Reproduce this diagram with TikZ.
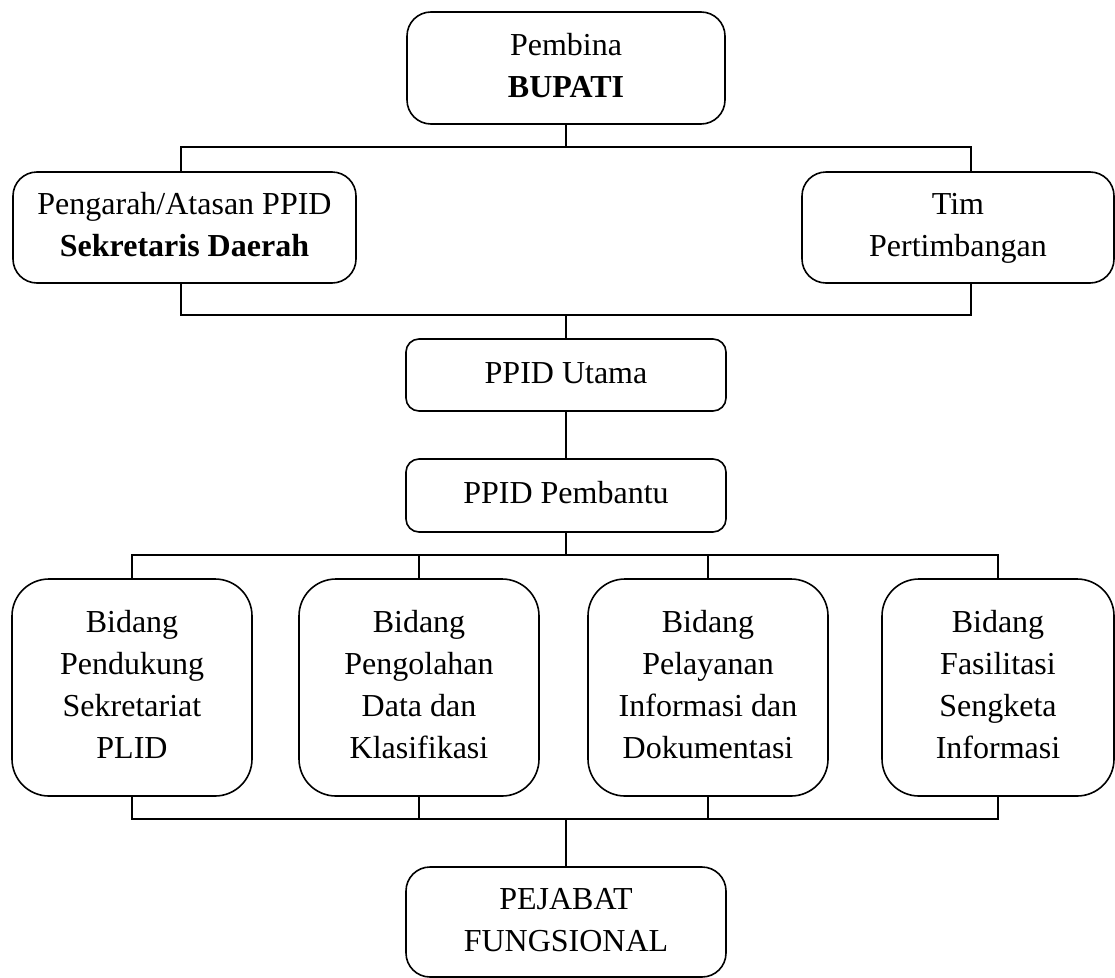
\documentclass[tikz,border=0pt]{standalone}
\usepackage{fontspec}
\setmainfont{Liberation Serif}
\begin{document}
\begin{tikzpicture}[x=1pt,y=-1pt,
  box/.style={draw, line width=1.6pt, align=center, inner sep=0pt,
    font=\fontsize{32}{42}\selectfont},
  conn/.style={line width=1.6pt}]
\useasboundingbox (0,0) rectangle (1115,977);
% top level
\node[box, minimum width=318pt, minimum height=112pt, rounded corners=24pt] (bupati) at (566,68) {\strut Pembina\\\textbf{BUPATI}\strut};
\node[box, minimum width=343pt, minimum height=111pt, rounded corners=24pt] (pengarah) at (184.5,227.5) {\strut Pengarah/Atasan PPID\\\textbf{Sekretaris Daerah}\strut};
\node[box, minimum width=312pt, minimum height=111pt, rounded corners=24pt] (tim) at (958,227.5) {\strut Tim\\Pertimbangan\strut};
\node[box, minimum width=320pt, minimum height=72pt, rounded corners=13pt] (utama) at (566,375) {\strut PPID Utama};
\node[box, minimum width=320pt, minimum height=73pt, rounded corners=13pt] (pembantu) at (566,495.5) {\strut PPID Pembantu};
% bidang
\node[box, minimum width=240pt, minimum height=217pt, rounded corners=37pt] (bid1) at (132,687.5) {\strut Bidang\\Pendukung\\Sekretariat\\PLID\strut};
\node[box, minimum width=240pt, minimum height=217pt, rounded corners=37pt] (bid2) at (419,687.5) {\strut Bidang\\Pengolahan\\Data dan\\Klasifikasi\strut};
\node[box, minimum width=240pt, minimum height=217pt, rounded corners=37pt] (bid3) at (708,687.5) {\strut Bidang\\Pelayanan\\Informasi dan\\Dokumentasi\strut};
\node[box, minimum width=232pt, minimum height=217pt, rounded corners=37pt] (bid4) at (998,687.5) {\strut Bidang\\Fasilitasi\\Sengketa\\Informasi\strut};
\node[box, minimum width=320pt, minimum height=110pt, rounded corners=24pt] (pejabat) at (566,922) {\strut PEJABAT\\FUNGSIONAL\strut};
% junctions
\coordinate (a0) at (566,147);
\coordinate (a1) at (181,147);
\coordinate (a2) at (971,147);
\coordinate (b0) at (566,315);
\coordinate (b1) at (181,315);
\coordinate (b2) at (971,315);
\coordinate (c0) at (566,555);
\coordinate (d0) at (566,819);
% connectors
\draw[conn] (bupati.south) -- (a0);
\draw[conn] (a1 |- pengarah.north) -- (a1) -- (a2) -- (a2 |- tim.north);
\draw[conn] (b1 |- pengarah.south) -- (b1) -- (b2) -- (b2 |- tim.south);
\draw[conn] (b0) -- (utama.north);
\draw[conn] (utama) -- (pembantu);
\draw[conn] (pembantu.south) -- (c0);
\draw[conn] (bid1.north) -- (bid1.north |- c0) -- (bid4.north |- c0) -- (bid4.north);
\draw[conn] (bid2.north) -- (bid2.north |- c0);
\draw[conn] (bid3.north) -- (bid3.north |- c0);
\draw[conn] (bid1.south) -- (bid1.south |- d0) -- (bid4.south |- d0) -- (bid4.south);
\draw[conn] (bid2.south) -- (bid2.south |- d0);
\draw[conn] (bid3.south) -- (bid3.south |- d0);
\draw[conn] (d0) -- (pejabat.north);
\end{tikzpicture}
\end{document}
